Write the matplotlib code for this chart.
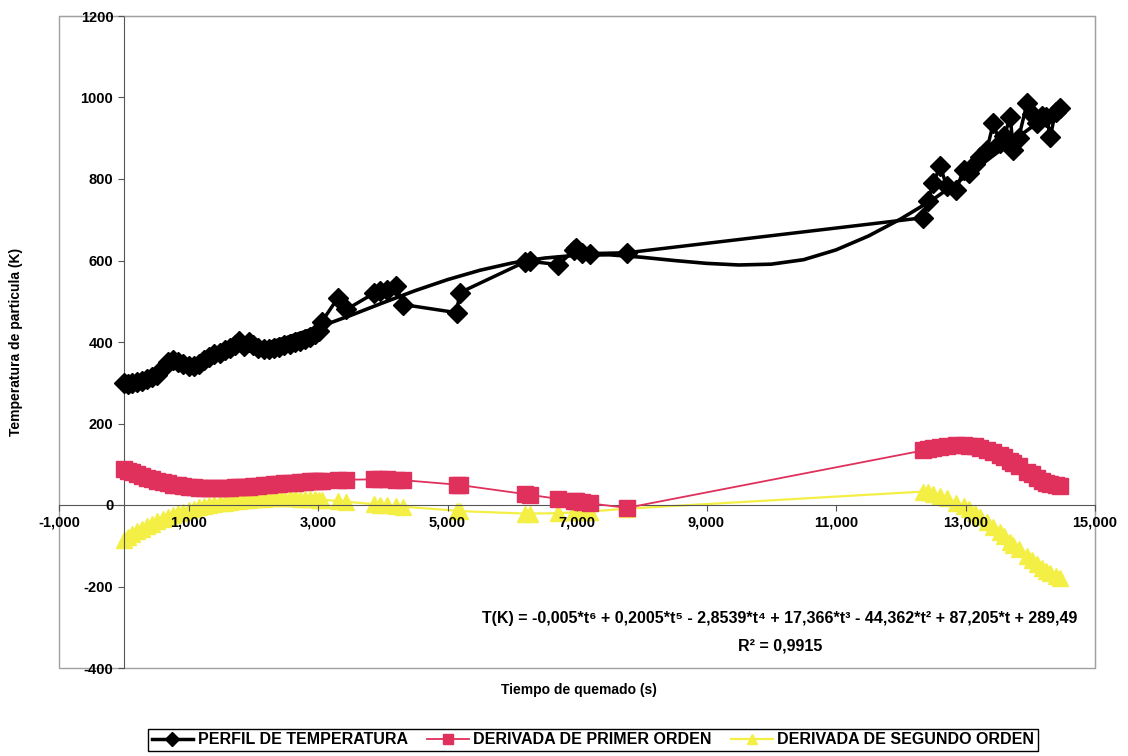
import matplotlib
matplotlib.use('Agg')
import matplotlib.pyplot as plt
from matplotlib.patches import Rectangle
from matplotlib.ticker import FuncFormatter

plt.rcParams['font.family'] = ['Liberation Sans', 'DejaVu Sans']
plt.rcParams['font.weight'] = 'bold'
plt.rcParams['axes.unicode_minus'] = False

# tiempo de quemado (s), shared by the three series
tiempo = [0, 60, 120, 200, 280, 360, 440, 520, 600, 680, 760, 840, 920, 1000,
          1080, 1160, 1240, 1320, 1400, 1480, 1560, 1640, 1720, 1780, 1850, 1930,
          2000, 2080, 2160, 2240, 2320, 2400, 2480, 2560, 2640, 2720, 2800, 2880,
          2950, 3010, 3060,
          3310, 3440, 3870, 3960, 4060, 4210, 4310, 5140, 5190, 6190, 6270, 6710,
          6960, 6990, 7080, 7200, 7770,
          12350, 12420, 12500, 12610, 12710, 12860, 12970, 13060, 13150, 13230,
          13330, 13430, 13530, 13600, 13690, 13740, 13820, 13950, 14020, 14100,
          14180, 14250, 14310, 14390, 14460]

temperatura = [300, 298, 300, 303, 305, 309, 313, 320, 336, 350, 355, 352, 346, 342,
               341, 345, 356, 364, 370, 374, 380, 385, 392, 403, 391, 400,
               392, 386, 383, 384, 386, 388, 392, 395, 399, 403, 408, 413,
               420, 428, 450,
               509, 480, 520, 525, 528, 537, 492, 472, 521, 596, 598, 590,
               625, 631, 618, 617, 619,
               705, 745, 790, 831, 782, 774, 823, 815, 838, 855,
               872, 937, 888, 905, 953, 872, 900, 986, 960, 937,
               955, 953, 904, 965, 974]

primer_orden = [88, 84, 80, 75, 71, 67, 63, 60, 56, 53, 50, 48, 46, 44,
                43, 42, 41, 41, 41, 41, 41, 42, 43, 43, 44, 45,
                46, 47, 48, 50, 51, 52, 53, 54, 55, 56, 57, 58,
                58, 59, 59,
                61, 62, 63, 63, 63, 62, 61, 50, 49, 27, 25, 15,
                10, 9, 7, 4, -7,
                134, 137, 140, 143, 145, 147, 147, 146, 144, 141,
                136, 130, 122, 117, 109, 104, 96, 82, 75, 67,
                60, 55, 52, 49, 47]

segundo_orden = [-85, -78, -72, -65, -58, -52, -46, -40, -35, -30, -25, -20, -16, -12,
                 -9, -6, -3, 0, 2, 4, 6, 8, 10, 11, 12, 13,
                 14, 15, 15, 16, 16, 16, 16, 16, 16, 15, 15, 14,
                 14, 13, 13,
                 10, 8, 2, 1, -1, -3, -4, -14, -15, -21, -21, -20,
                 -18, -18, -17, -16, -9,
                 33, 31, 28, 22, 16, 6, -3, -11, -20, -29,
                 -41, -54, -67, -77, -90, -97, -109, -125, -135, -145,
                 -155, -163, -168, -174, -180]

# polynomial trendline as drawn
trend_x = [0, 500, 1000, 1500, 2000, 2500, 3000, 3500, 4000, 4500, 5000, 5500,
           6000, 6500, 7000, 7500, 8000, 8500, 9000, 9500, 10000, 10500, 11000,
           11500, 12000, 12500, 13000, 13500, 14000, 14460]
trend_y = [292, 325, 348, 368, 388, 410, 436, 465, 496, 526, 553, 576,
           594, 606, 613, 614, 608, 600, 593, 589, 591, 602, 626,
           660, 702, 750, 806, 866, 925, 975]

ecuacion = ('T(K) = -0,005*t\u2076 + 0,2005*t\u2075 - 2,8539*t\u2074 + 17,366*t\u00b3'
            ' - 44,362*t\u00b2 + 87,205*t + 289,49\nR\u00b2 = 0,9915')

fig = plt.figure(figsize=(11.28, 7.56), dpi=100)
ax = fig.add_axes([59 / 1128, 1 - 668 / 756, 1036 / 1128, 652 / 756])
ax.set_axisbelow(False)

ax.plot(tiempo, temperatura, color='black', lw=2.5, marker='D', ms=10,
        label='PERFIL DE TEMPERATURA', zorder=3)
ax.plot(trend_x, trend_y, color='black', lw=2.6, zorder=3)
ax.plot(tiempo, primer_orden, color='#E0305C', lw=1.3, marker='s', ms=11,
        label='DERIVADA DE PRIMER ORDEN', zorder=4)
ax.plot(tiempo, segundo_orden, color='#F3EF45', lw=1.6, marker='^', ms=11,
        label='DERIVADA DE SEGUNDO ORDEN', zorder=2)

ax.set_xlim(-1000, 15000)
ax.set_ylim(-400, 1200)
ax.set_xticks(range(-1000, 15001, 2000))
ax.set_yticks(range(-400, 1201, 200))
ax.xaxis.set_major_formatter(FuncFormatter(lambda v, p: f'{int(v):,}'))

for s in ['top', 'right']:
    ax.spines[s].set_color('#A0A0A0')
ax.spines['left'].set_position(('data', 0))
ax.spines['bottom'].set_position(('data', 0))
ax.spines['left'].set_color('#555555')
ax.spines['bottom'].set_color('#555555')
ax.add_patch(Rectangle((0, 0), 1, 1, transform=ax.transAxes, fill=False,
                       edgecolor='#A0A0A0', lw=1.0, clip_on=False))

ax.tick_params(axis='both', direction='out', length=4, width=0.8,
               color='#555555', labelsize=10.5)
for lab in ax.get_xticklabels() + ax.get_yticklabels():
    lab.set_fontweight('bold')

ax.text(0.696, 0.055, ecuacion, transform=ax.transAxes, ha='center', va='center',
        fontsize=11.5, fontweight='bold', linespacing=2.0)

fig.text(0.513, 1 - 690 / 756, 'Tiempo de quemado (s)', ha='center', va='center',
         fontsize=10, fontweight='bold')
fig.text(0.014, 1 - 342 / 756, 'Temperatura de particula (K)', rotation=90,
         ha='center', va='center', fontsize=10, fontweight='bold')

leg = fig.legend(loc='center', bbox_to_anchor=(593 / 1128, 1 - 740 / 756), ncol=3,
                 fancybox=False, edgecolor='black', framealpha=1,
                 handlelength=2.6, columnspacing=1.2, handletextpad=0.3,
                 borderpad=0.25, markerscale=0.7,
                 prop={'weight': 'bold', 'size': 11.5})
leg.get_frame().set_linewidth(1.0)

fig.savefig('out.png', dpi=100)
